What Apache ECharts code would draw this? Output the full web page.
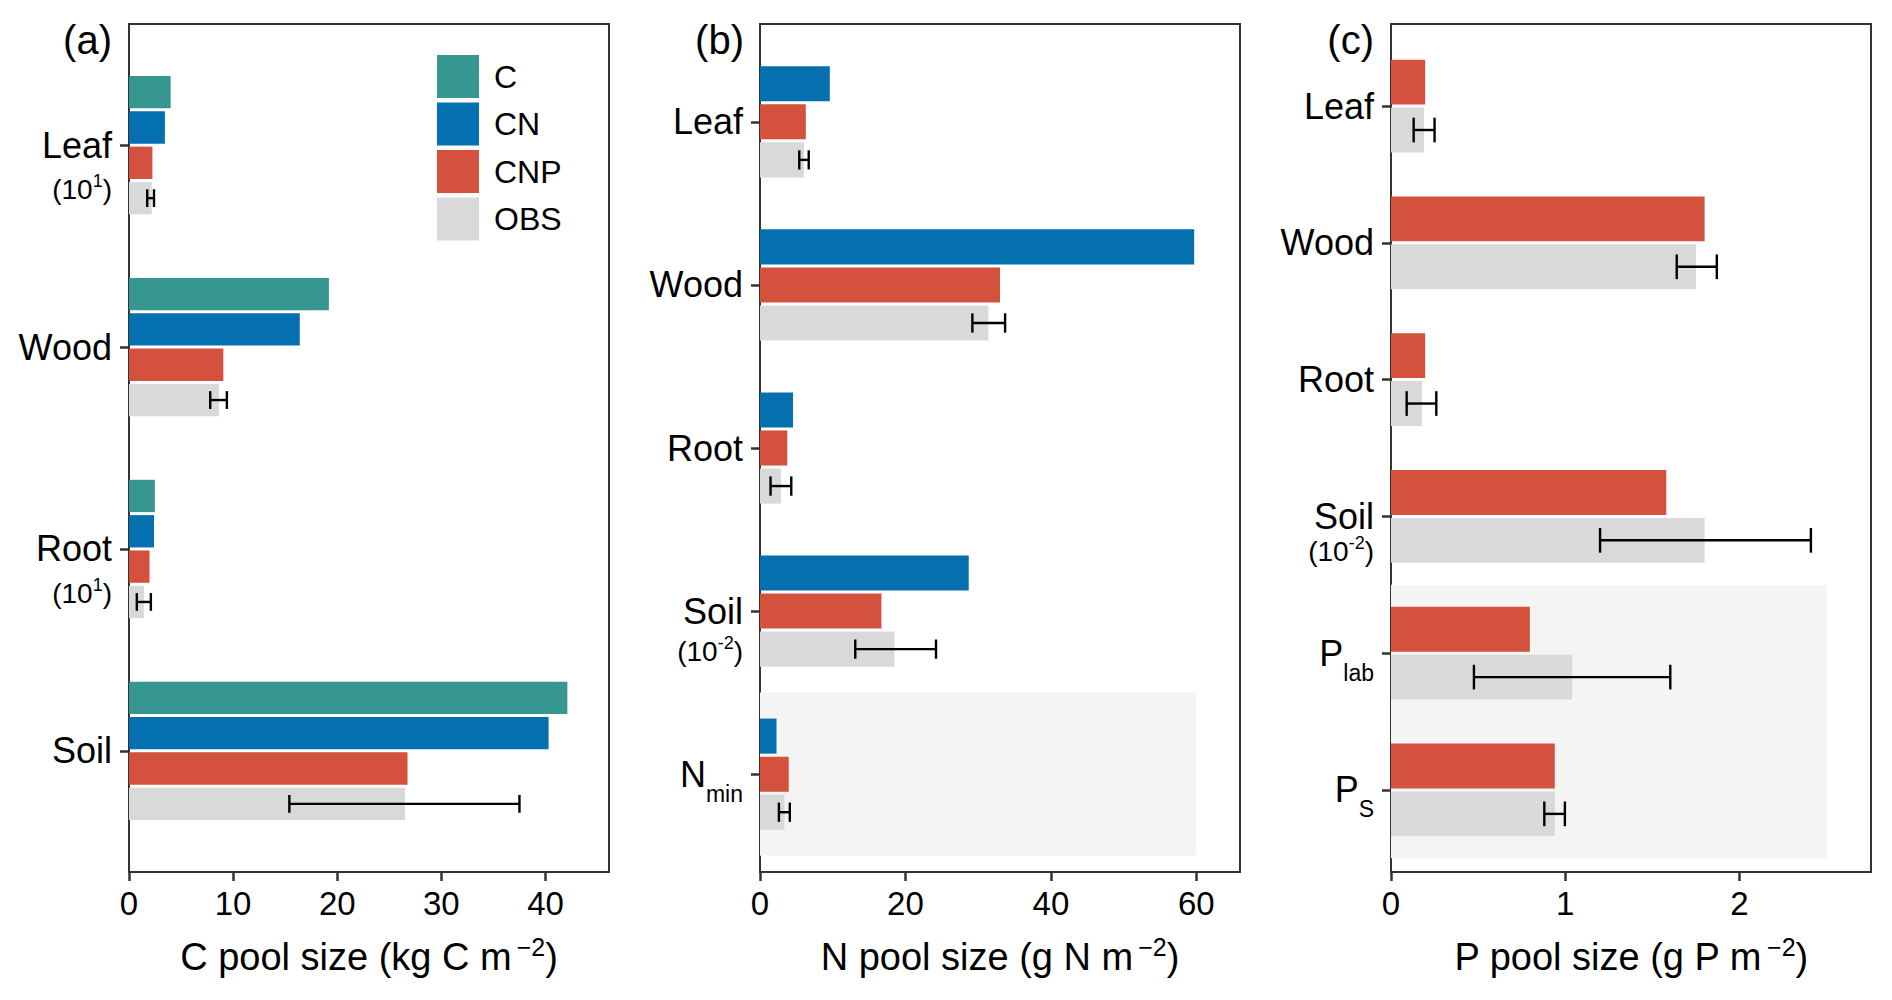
<!DOCTYPE html>
<html>
<head>
<meta charset="utf-8">
<script src="https://cdn.jsdelivr.net/npm/echarts@6/dist/echarts.min.js"></script>
<style>
html,body{margin:0;padding:0;background:#fff;}
#chart{width:1892px;height:1000px;}
</style>
</head>
<body>
<div id="chart"></div>
<script>
// ---------- data ----------
const modelNames = ['C', 'CN', 'CNP', 'OBS'];

// Panel (a) C pools (kg C m-2)
const catsA = ['Leaf', 'Wood', 'Root', 'Soil'];
const aC    = [4.0, 19.2, 2.48, 42.1];
const aCN   = [3.45, 16.4, 2.40, 40.3];
const aCNP  = [2.25, 9.06, 1.97, 26.75];
const aOBS  = [2.18, 8.64, 1.43, 26.5];
const aLo   = [1.75, 7.8, 0.75, 15.4];
const aHi   = [2.4, 9.4, 2.1, 37.5];
const aTicks = [0, 10, 20, 30, 40];
const aMax = 46.1;

// Panel (b) N pools (g N m-2)
const catsB = ['Leaf', 'Wood', 'Root', 'Soil', 'Nmin'];
const bCN   = [9.6, 59.7, 4.54, 28.7, 2.27];
const bCNP  = [6.3, 33.0, 3.75, 16.7, 3.95];
const bOBS  = [6.05, 31.4, 2.9, 18.5, 3.36];
const bLo   = [5.4, 29.2, 1.45, 13.1, 2.6];
const bHi   = [6.7, 33.7, 4.3, 24.2, 4.1];
const bTicks = [0, 20, 40, 60];
const bMax = 66;
const bShade = [0, 60, 4.5, 5.5];

// Panel (c) P pools (g P m-2)
const catsC = ['Leaf', 'Wood', 'Root', 'Soil', 'Plab', 'Ps'];
const cCNP  = [0.196, 1.80, 0.196, 1.58, 0.797, 0.94];
const cOBS  = [0.19, 1.75, 0.178, 1.80, 1.04, 0.94];
const cLo   = [0.13, 1.64, 0.09, 1.20, 0.476, 0.88];
const cHi   = [0.25, 1.87, 0.26, 2.41, 1.603, 0.998];
const cTicks = [0, 1, 2];
const cMax = 2.755;
const cShade = [0, 2.5, 4.5, 6.5];

// ---------- styling ----------
const FONT = 'Liberation Sans, Arial, sans-serif';
const COLORS = {C: '#35978f', CN: '#0570b0', CNP: '#d4523d', OBS: '#d9d9d9'};
const DODGE = 0.7;
const GAP = 3;
const FRAME = '#333333';

const grids = [
  {left: 129, top: 24, width: 480, height: 848},
  {left: 760, top: 24, width: 480, height: 848},
  {left: 1391, top: 24, width: 480, height: 848}
];

function barSeries(g, name, values, k, n) {
  return {
    type: 'custom', name: name, xAxisIndex: g, yAxisIndex: g, z: 3,
    itemStyle: {color: COLORS[name]},
    encode: {x: 0, y: 1},
    data: values.map((v, i) => [v, i + 1]),
    renderItem: function (params, api) {
      const v = api.value(0), c = api.value(1);
      const w = DODGE / n;
      const off = -DODGE / 2 + w * (k + 0.5);
      const p0 = api.coord([0, c + off]);
      const p1 = api.coord([v, c + off]);
      const h = Math.abs(api.size([0, w])[1]) - GAP;
      return {type: 'rect', shape: {x: p0[0], y: p0[1] - h / 2, width: p1[0] - p0[0], height: h},
              style: {fill: COLORS[name]}};
    }
  };
}

function errSeries(g, lo, hi, k, n) {
  return {
    type: 'custom', name: 'err' + g, xAxisIndex: g, yAxisIndex: g, z: 5, silent: true,
    encode: {x: [0, 1], y: 2},
    data: lo.map((l, i) => [l, hi[i], i + 1]),
    renderItem: function (params, api) {
      const l = api.value(0), h = api.value(1), c = api.value(2);
      const w = DODGE / n;
      const off = -DODGE / 2 + w * (k + 0.5);
      const a = api.coord([l, c + off]);
      const b = api.coord([h, c + off]);
      const cap = (Math.abs(api.size([0, w])[1]) - GAP) * 0.55 / 2;
      const st = {stroke: '#000', lineWidth: 2.4, fill: null};
      return {type: 'group', children: [
        {type: 'line', shape: {x1: a[0], y1: a[1], x2: b[0], y2: b[1]}, style: st},
        {type: 'line', shape: {x1: a[0], y1: a[1] - cap, x2: a[0], y2: a[1] + cap}, style: st},
        {type: 'line', shape: {x1: b[0], y1: b[1] - cap, x2: b[0], y2: b[1] + cap}, style: st}
      ]};
    }
  };
}

function shadeSeries(g, box) {
  return {
    type: 'custom', name: 'shade' + g, xAxisIndex: g, yAxisIndex: g, z: 1, silent: true,
    encode: {x: [0, 1], y: [2, 3]},
    data: [box],
    renderItem: function (params, api) {
      const p0 = api.coord([api.value(0), api.value(2)]);
      const p1 = api.coord([api.value(1), api.value(3)]);
      return {type: 'rect', shape: {x: p0[0], y: p0[1], width: p1[0] - p0[0], height: p1[1] - p0[1]},
              style: {fill: '#f4f4f4'}};
    }
  };
}

const labelRich = {
  n:  {fontSize: 36, fontFamily: FONT, color: '#000', lineHeight: 62},
  sb: {fontSize: 23, fontFamily: FONT, color: '#000', verticalAlign: 'bottom'},
  p:  {fontSize: 28, fontFamily: FONT, color: '#000', lineHeight: 35},
  sp: {fontSize: 18, fontFamily: FONT, color: '#000', verticalAlign: 'top'}
};

function catLabel(name) {
  if (name === 'Nmin') return '{n|N}{sb|min}';
  if (name === 'Plab') return '{n|P}{sb|lab}';
  if (name === 'Ps') return '{n|P}{sb|S}';
  return '{n|' + name + '}';
}

function makeYAxis(g, cats, subs, subOffset) {
  const map = {};
  const vals = [];
  cats.forEach((c, i) => { map[String(i + 1)] = catLabel(c); vals.push(i + 1); });
  Object.keys(subs).forEach(k => {
    const v = Number(k) + subOffset;
    map[String(v)] = '{p|(10}{sp|' + subs[k] + '}{p|)}';
    vals.push(v);
  });
  return {
    type: 'value', gridIndex: g, min: 0.4, max: cats.length + 0.6, inverse: true,
    axisLine: {show: false}, splitLine: {show: false},
    axisTick: {show: true, customValues: cats.map((c, i) => i + 1), length: 9,
               lineStyle: {color: FRAME, width: 2.5}},
    axisLabel: {show: true, customValues: vals, margin: 17, align: 'right',
                formatter: function (v) { return map[String(v)] || ''; }, rich: labelRich}
  };
}

const nameRich = {
  t: {fontSize: 38, fontFamily: FONT, color: '#000', lineHeight: 46},
  s: {fontSize: 25, fontFamily: FONT, color: '#000', verticalAlign: 'top'}
};

function makeXAxis(g, max, ticks, nameText) {
  return {
    type: 'value', gridIndex: g, min: 0, max: max,
    axisLine: {show: false}, splitLine: {show: false},
    axisTick: {show: true, customValues: ticks, length: 9, lineStyle: {color: FRAME, width: 2.5}},
    axisLabel: {show: true, customValues: ticks, margin: 15, fontSize: 33, fontFamily: FONT, color: '#000'},
    name: '{t|' + nameText + '}{s|\u2009\u22122}{t|)}',
    nameLocation: 'middle', nameGap: 62,
    nameTextStyle: {rich: nameRich}
  };
}

const option = {
  backgroundColor: '#fff',
  animation: false,
  textStyle: {fontFamily: FONT},
  grid: grids.map(gr => Object.assign({show: true, borderColor: FRAME, borderWidth: 2,
                                        backgroundColor: 'transparent', containLabel: false}, gr)),
  xAxis: [
    makeXAxis(0, aMax, aTicks, 'C pool size (kg C m'),
    makeXAxis(1, bMax, bTicks, 'N pool size (g N m'),
    makeXAxis(2, cMax, cTicks, 'P pool size (g P m')
  ],
  yAxis: [
    makeYAxis(0, catsA, {1: '1', 3: '1'}, 0.22),
    makeYAxis(1, catsB, {4: '-2'}, 0.25),
    makeYAxis(2, catsC, {4: '-2'}, 0.26)
  ],
  legend: {
    data: modelNames, orient: 'vertical', left: 432, top: 50,
    itemWidth: 42, itemHeight: 43, itemGap: 4.5, icon: 'rect', selectedMode: false,
    textStyle: {fontSize: 32, fontFamily: FONT, color: '#000', padding: [0, 0, 0, 10]}
  },
  graphic: [
    {type: 'text', x: 112, y: 40, style: {text: '(a)', font: '40px ' + FONT, fill: '#000', textAlign: 'right', textVerticalAlign: 'middle'}},
    {type: 'text', x: 744, y: 40, style: {text: '(b)', font: '40px ' + FONT, fill: '#000', textAlign: 'right', textVerticalAlign: 'middle'}},
    {type: 'text', x: 1374, y: 40, style: {text: '(c)', font: '40px ' + FONT, fill: '#000', textAlign: 'right', textVerticalAlign: 'middle'}}
  ],
  series: [
    barSeries(0, 'C', aC, 0, 4),
    barSeries(0, 'CN', aCN, 1, 4),
    barSeries(0, 'CNP', aCNP, 2, 4),
    barSeries(0, 'OBS', aOBS, 3, 4),
    errSeries(0, aLo, aHi, 3, 4),

    shadeSeries(1, bShade),
    barSeries(1, 'CN', bCN, 0, 3),
    barSeries(1, 'CNP', bCNP, 1, 3),
    barSeries(1, 'OBS', bOBS, 2, 3),
    errSeries(1, bLo, bHi, 2, 3),

    shadeSeries(2, cShade),
    barSeries(2, 'CNP', cCNP, 0, 2),
    barSeries(2, 'OBS', cOBS, 1, 2),
    errSeries(2, cLo, cHi, 1, 2)
  ]
};

const chart = echarts.init(document.getElementById('chart'), null, {renderer: 'svg'});
chart.setOption(option);
</script>
</body>
</html>
